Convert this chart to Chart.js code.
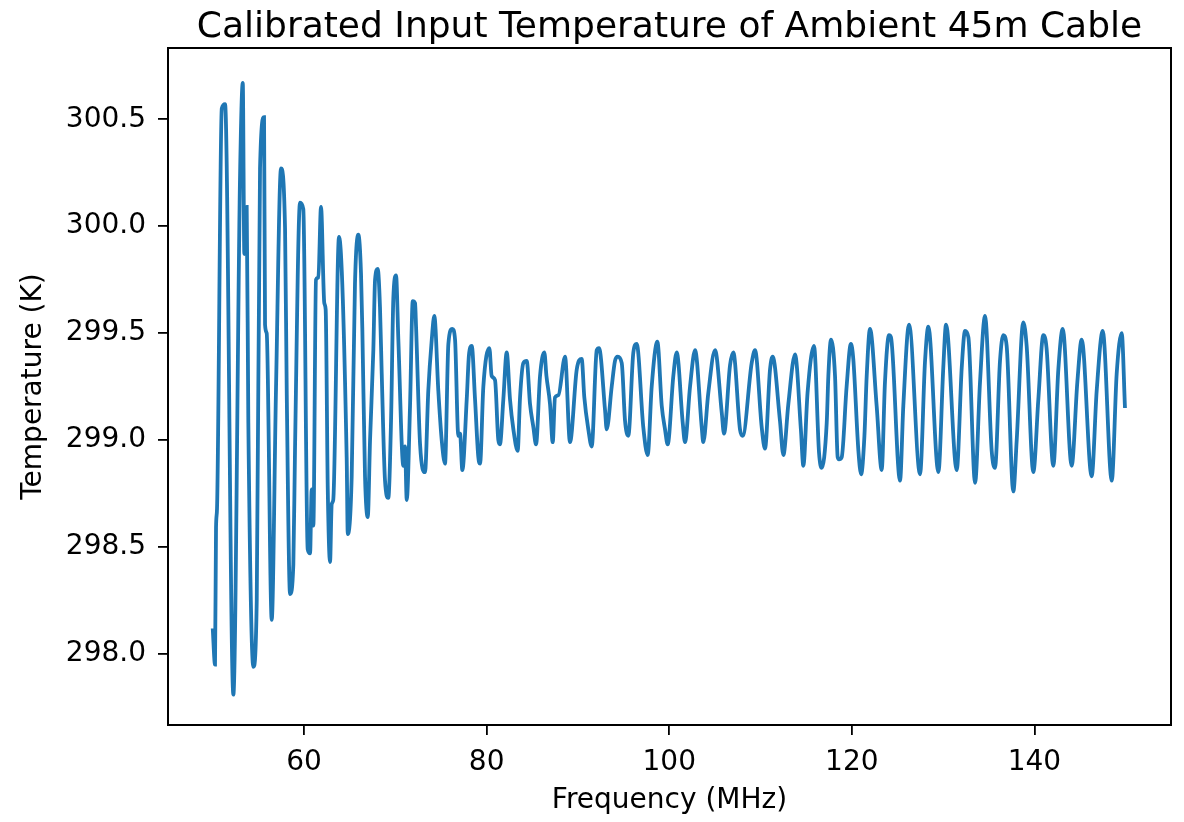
<!DOCTYPE html>
<html lang="en">

<head>
    <meta charset="UTF-8">
    <title>Calibrated Input Temperature</title>
    <style>
        body { margin: 0; background: #fff; }
    </style>
</head>

<body>

    <div>
        <canvas id="myChart" width="1184" height="822" style="width:1184px;height:822px"></canvas>
    </div>

    <script src="https://cdn.jsdelivr.net/npm/chart.js"></script>

    <script>
        // frequency (MHz) and temperature (K)
        const freqMHz = [
            50.0, 50.25, 50.36, 50.47, 50.99, 51.35, 52.26, 52.99, 53.29, 53.46,
            53.72, 53.9, 54.45, 54.82, 55.18, 55.62, 55.73, 55.91, 56.46, 56.93,
            57.48, 57.92, 58.11, 58.47, 58.83, 59.01, 59.56, 59.92, 60.4, 60.66,
            60.84, 61.02, 61.31, 61.57, 61.86, 62.22, 62.37, 62.6, 62.85, 63.03,
            63.2, 63.83, 64.67, 64.79, 65.22, 65.58, 65.95, 66.24, 66.39, 66.68,
            66.98, 67.23, 67.59, 67.78, 68.07, 68.32, 68.51, 68.87, 69.23, 69.53,
            69.78, 70.08, 70.33, 70.88, 71.06, 71.25, 71.61, 71.91, 72.16, 72.27,
            72.71, 73.25, 73.61, 73.99, 74.27, 74.71, 75.08, 75.44, 75.81, 76.24,
            76.54, 76.9, 77.09, 77.34, 77.82, 78.07, 78.37, 78.73, 79.09, 79.28,
            79.64, 80.3, 80.55, 80.92, 81.28, 81.46, 81.83, 82.2, 82.56, 82.93,
            83.4, 83.66, 84.02, 84.39, 84.75, 85.12, 85.41, 85.85, 86.32, 86.55,
            86.94, 87.24, 87.49, 87.86, 88.59, 89.13, 89.87, 90.41, 90.7, 91.14,
            91.51, 92.06, 92.31, 92.97, 93.15, 93.7, 94.06, 94.36, 94.8, 95.16,
            95.52, 96.07, 96.44, 97.16, 97.64, 98.08, 98.7, 99.18, 99.54, 99.83,
            100.45, 100.82, 101.48, 101.73, 102.28, 102.83, 103.56, 103.73, 104.28, 105.02,
            105.75, 106.0, 106.66, 107.02, 107.75, 108.05, 109.03, 109.4, 110.13, 110.49,
            111.04, 111.33, 112.13, 112.5, 113.05, 113.78, 114.42, 114.69, 115.15, 115.86,
            116.41, 116.7, 117.25, 117.43, 117.72, 118.16, 118.45, 118.59, 118.89, 119.43,
            119.9, 120.16, 120.72, 121.02, 121.38, 121.63, 121.99, 122.72, 123.27, 123.63,
            124.07, 124.29, 125.28, 125.64, 126.27, 127.47, 128.02, 128.38, 129.48, 130.02,
            130.32, 131.49, 132.04, 132.4, 132.77, 133.5, 134.04, 134.59, 135.32, 135.68,
            136.23, 136.59, 136.96, 137.69, 138.06, 138.78, 139.15, 139.88, 140.43, 140.97,
            141.33, 142.07, 142.62, 143.1, 144.08, 144.7, 145.18, 146.27, 146.82, 147.48,
            148.47, 149.01, 149.56, 149.92
        ];
        const tempK = [
            298.12, 297.95, 298.59, 298.68, 300.55, 300.57, 297.81, 300.23, 300.67, 299.87,
            300.09, 299.08, 297.94, 298.25, 300.27, 300.51, 299.54, 299.5, 298.16, 299.24,
            300.27, 299.99, 299.21, 298.28, 298.42, 298.95, 300.11, 300.08, 298.49, 298.47,
            298.77, 298.6, 299.75, 299.76, 300.09, 299.64, 299.61, 298.77, 298.43, 298.7,
            298.72, 299.95, 298.92, 298.56, 298.83, 299.73, 299.96, 299.78, 299.51, 298.83,
            298.64, 299.0, 299.42, 299.75, 299.8, 299.62, 299.31, 298.81, 298.73, 299.09,
            299.66, 299.77, 299.47, 298.88, 298.97, 298.72, 299.16, 299.65, 299.64, 299.53,
            298.98, 298.85, 299.23, 299.47, 299.58, 299.23, 299.0, 298.89, 299.45, 299.52,
            299.47, 299.02, 299.03, 298.86, 299.19, 299.4, 299.44, 299.19, 298.92, 298.89,
            299.25, 299.43, 299.3, 299.28, 299.0, 298.98, 299.19, 299.41, 299.19, 299.05,
            298.95, 299.2, 299.36, 299.37, 299.17, 299.06, 298.98, 299.3, 299.41, 299.3,
            299.17, 298.99, 299.2, 299.21, 299.39, 298.99, 299.33, 299.38, 299.2, 299.05,
            298.97, 299.42, 299.43, 299.14, 299.05, 299.25, 299.37, 299.39, 299.36, 299.09,
            299.02, 299.41, 299.45, 299.06, 298.93, 299.25, 299.46, 299.16, 299.05, 298.98,
            299.3, 299.41, 299.08, 298.99, 299.25, 299.42, 299.06, 298.99, 299.22, 299.42,
            299.13, 299.03, 299.35, 299.41, 299.05, 299.02, 299.36, 299.42, 299.06, 298.96,
            299.33, 299.39, 299.09, 298.93, 299.17, 299.4, 299.05, 298.88, 299.22, 299.44,
            298.94, 298.87, 299.08, 299.3, 299.47, 299.3, 298.92, 298.91, 298.92, 299.25,
            299.45, 299.38, 298.95, 298.84, 299.02, 299.3, 299.52, 299.16, 298.86, 299.27,
            299.49, 299.48, 298.81, 299.16, 299.54, 298.84, 299.37, 299.53, 298.85, 299.34,
            299.54, 298.86, 299.34, 299.51, 299.48, 298.8, 299.27, 299.58, 298.95, 298.87,
            299.37, 299.49, 299.44, 298.76, 299.0, 299.55, 299.44, 298.85, 299.19, 299.49,
            299.43, 298.88, 299.33, 299.52, 298.88, 299.27, 299.47, 298.83, 299.23, 299.51,
            298.81, 299.31, 299.5, 299.15
        ];
        const xTicks = [60, 80, 100, 120, 140];
        const yTicks = [298.0, 298.5, 299.0, 299.5, 300.0, 300.5];
        const titleText = 'Calibrated Input Temperature of Ambient 45m Cable';

        const fontFam = "'DejaVu Sans', sans-serif";

        const points = freqMHz.map((f, i) => ({ x: f, y: tempK[i] }));

        // matplotlib-style box around the plot area + title centred over it
        const boxPlugin = {
            id: 'box',
            afterDraw(chart) {
                const a = chart.chartArea;
                const c = chart.ctx;
                c.save();
                c.strokeStyle = '#000';
                c.lineWidth = 2;
                c.strokeRect(a.left, a.top, a.right - a.left, a.bottom - a.top);
                c.fillStyle = '#000';
                c.font = '36px ' + fontFam;
                c.textAlign = 'center';
                c.textBaseline = 'alphabetic';
                c.fillText(titleText, (a.left + a.right) / 2, 36.5);
                c.restore();
            }
        };

        const ctx = document.getElementById('myChart');

        new Chart(ctx, {
            type: 'line',
            data: {
                datasets: [{
                    data: points,
                    borderColor: '#1f77b4',
                    borderWidth: 3.8,
                    pointRadius: 0,
                    cubicInterpolationMode: 'monotone',
                    fill: false
                }]
            },
            options: {
                responsive: false,
                animation: false,
                devicePixelRatio: 1,
                layout: { padding: { left: 0, right: 13, top: 48, bottom: 0 } },
                plugins: {
                    legend: { display: false },
                    tooltip: { enabled: false },
                    title: { display: false }
                },
                scales: {
                    x: {
                        type: 'linear',
                        min: 45.1,
                        max: 154.96,
                        afterFit: s => { s.height = 97; },
                        afterBuildTicks: s => { s.ticks = xTicks.map(v => ({ value: v })); },
                        border: { display: false },
                        grid: { drawOnChartArea: false, drawTicks: true, tickLength: 10, color: '#000', lineWidth: 1.8 },
                        ticks: {
                            color: '#000',
                            padding: 11,
                            maxRotation: 0,
                            font: { family: fontFam, size: 28 },
                            callback: v => String(v)
                        },
                        title: {
                            display: true,
                            text: 'Frequency (MHz)',
                            color: '#000',
                            font: { family: fontFam, size: 28 },
                            padding: { top: 0, bottom: 4 }
                        }
                    },
                    y: {
                        min: 297.668,
                        max: 300.833,
                        afterFit: s => { s.width = 168; },
                        afterBuildTicks: s => { s.ticks = yTicks.map(v => ({ value: v })); },
                        border: { display: false },
                        grid: { drawOnChartArea: false, drawTicks: true, tickLength: 10, color: '#000', lineWidth: 1.8 },
                        ticks: {
                            color: '#000',
                            padding: 12,
                            font: { family: fontFam, size: 28 },
                            callback: v => Number(v).toFixed(1)
                        },
                        title: {
                            display: true,
                            text: 'Temperature (K)',
                            color: '#000',
                            font: { family: fontFam, size: 28 },
                            padding: { top: 17, bottom: 0 }
                        }
                    }
                }
            },
            plugins: [boxPlugin]
        });
    </script>
</body>

</html>
